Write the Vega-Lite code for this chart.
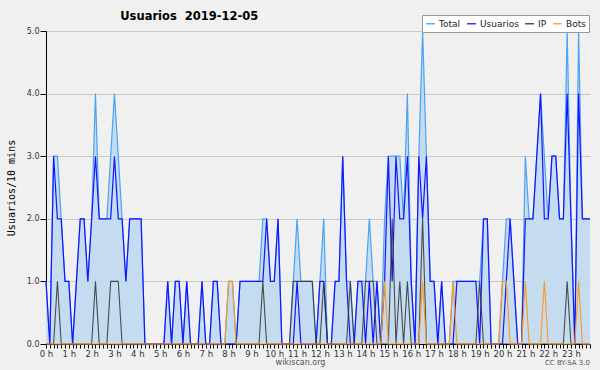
{
  "$schema": "https://vega.github.io/schema/vega-lite/v6.json",
  "width": 544,
  "height": 313,
  "autosize": {"type": "none"},
  "padding": {"left": 46, "top": 31, "right": 10, "bottom": 26},
  "background": "#f0f0f0",
  "config": {"view": {"stroke": null}, "font": "DejaVu Sans"},
  "title": {"text": "Usuarios\u00a0 2019-12-05", "anchor": "start", "dx": 114, "offset": -8, "fontSize": 11.5, "font": "DejaVu Sans", "fontWeight": "bold", "color": "#000"},
  "data": {"values": [
    {"m":0,"Total":1,"Usuarios":1,"IP":0,"Bots":0},
    {"m":10,"Total":0,"Usuarios":0,"IP":0,"Bots":0},
    {"m":20,"Total":3,"Usuarios":3,"IP":0,"Bots":0},
    {"m":30,"Total":3,"Usuarios":2,"IP":1,"Bots":0},
    {"m":40,"Total":2,"Usuarios":2,"IP":0,"Bots":0},
    {"m":50,"Total":1,"Usuarios":1,"IP":0,"Bots":0},
    {"m":60,"Total":1,"Usuarios":1,"IP":0,"Bots":0},
    {"m":70,"Total":0,"Usuarios":0,"IP":0,"Bots":0},
    {"m":80,"Total":1,"Usuarios":1,"IP":0,"Bots":0},
    {"m":90,"Total":2,"Usuarios":2,"IP":0,"Bots":0},
    {"m":100,"Total":2,"Usuarios":2,"IP":0,"Bots":0},
    {"m":110,"Total":1,"Usuarios":1,"IP":0,"Bots":0},
    {"m":120,"Total":2,"Usuarios":2,"IP":0,"Bots":0},
    {"m":130,"Total":4,"Usuarios":3,"IP":1,"Bots":0},
    {"m":140,"Total":2,"Usuarios":2,"IP":0,"Bots":0},
    {"m":150,"Total":2,"Usuarios":2,"IP":0,"Bots":0},
    {"m":160,"Total":2,"Usuarios":2,"IP":0,"Bots":0},
    {"m":170,"Total":3,"Usuarios":2,"IP":1,"Bots":0},
    {"m":180,"Total":4,"Usuarios":3,"IP":1,"Bots":0},
    {"m":190,"Total":3,"Usuarios":2,"IP":1,"Bots":0},
    {"m":200,"Total":2,"Usuarios":2,"IP":0,"Bots":0},
    {"m":210,"Total":1,"Usuarios":1,"IP":0,"Bots":0},
    {"m":220,"Total":2,"Usuarios":2,"IP":0,"Bots":0},
    {"m":230,"Total":2,"Usuarios":2,"IP":0,"Bots":0},
    {"m":240,"Total":2,"Usuarios":2,"IP":0,"Bots":0},
    {"m":250,"Total":2,"Usuarios":2,"IP":0,"Bots":0},
    {"m":260,"Total":0,"Usuarios":0,"IP":0,"Bots":0},
    {"m":270,"Total":0,"Usuarios":0,"IP":0,"Bots":0},
    {"m":280,"Total":0,"Usuarios":0,"IP":0,"Bots":0},
    {"m":290,"Total":0,"Usuarios":0,"IP":0,"Bots":0},
    {"m":300,"Total":0,"Usuarios":0,"IP":0,"Bots":0},
    {"m":310,"Total":0,"Usuarios":0,"IP":0,"Bots":0},
    {"m":320,"Total":1,"Usuarios":1,"IP":0,"Bots":0},
    {"m":330,"Total":0,"Usuarios":0,"IP":0,"Bots":0},
    {"m":340,"Total":1,"Usuarios":1,"IP":0,"Bots":0},
    {"m":350,"Total":1,"Usuarios":1,"IP":0,"Bots":0},
    {"m":360,"Total":0,"Usuarios":0,"IP":0,"Bots":0},
    {"m":370,"Total":1,"Usuarios":1,"IP":0,"Bots":0},
    {"m":380,"Total":0,"Usuarios":0,"IP":0,"Bots":0},
    {"m":390,"Total":0,"Usuarios":0,"IP":0,"Bots":0},
    {"m":400,"Total":0,"Usuarios":0,"IP":0,"Bots":0},
    {"m":410,"Total":1,"Usuarios":1,"IP":0,"Bots":0},
    {"m":420,"Total":0,"Usuarios":0,"IP":0,"Bots":0},
    {"m":430,"Total":0,"Usuarios":0,"IP":0,"Bots":0},
    {"m":440,"Total":1,"Usuarios":1,"IP":0,"Bots":0},
    {"m":450,"Total":1,"Usuarios":1,"IP":0,"Bots":0},
    {"m":460,"Total":0,"Usuarios":0,"IP":0,"Bots":0},
    {"m":470,"Total":0,"Usuarios":0,"IP":0,"Bots":0},
    {"m":480,"Total":1,"Usuarios":0,"IP":0,"Bots":1},
    {"m":490,"Total":1,"Usuarios":0,"IP":0,"Bots":1},
    {"m":500,"Total":0,"Usuarios":0,"IP":0,"Bots":0},
    {"m":510,"Total":1,"Usuarios":1,"IP":0,"Bots":0},
    {"m":520,"Total":1,"Usuarios":1,"IP":0,"Bots":0},
    {"m":530,"Total":1,"Usuarios":1,"IP":0,"Bots":0},
    {"m":540,"Total":1,"Usuarios":1,"IP":0,"Bots":0},
    {"m":550,"Total":1,"Usuarios":1,"IP":0,"Bots":0},
    {"m":560,"Total":1,"Usuarios":1,"IP":0,"Bots":0},
    {"m":570,"Total":2,"Usuarios":1,"IP":1,"Bots":0},
    {"m":580,"Total":2,"Usuarios":2,"IP":0,"Bots":0},
    {"m":590,"Total":1,"Usuarios":1,"IP":0,"Bots":0},
    {"m":600,"Total":1,"Usuarios":1,"IP":0,"Bots":0},
    {"m":610,"Total":2,"Usuarios":2,"IP":0,"Bots":0},
    {"m":620,"Total":0,"Usuarios":0,"IP":0,"Bots":0},
    {"m":630,"Total":0,"Usuarios":0,"IP":0,"Bots":0},
    {"m":640,"Total":0,"Usuarios":0,"IP":0,"Bots":0},
    {"m":650,"Total":1,"Usuarios":0,"IP":1,"Bots":0},
    {"m":660,"Total":2,"Usuarios":1,"IP":1,"Bots":0},
    {"m":670,"Total":1,"Usuarios":0,"IP":1,"Bots":0},
    {"m":680,"Total":1,"Usuarios":0,"IP":1,"Bots":0},
    {"m":690,"Total":1,"Usuarios":0,"IP":1,"Bots":0},
    {"m":700,"Total":1,"Usuarios":0,"IP":1,"Bots":0},
    {"m":710,"Total":0,"Usuarios":0,"IP":0,"Bots":0},
    {"m":720,"Total":1,"Usuarios":1,"IP":0,"Bots":0},
    {"m":730,"Total":2,"Usuarios":1,"IP":1,"Bots":0},
    {"m":740,"Total":0,"Usuarios":0,"IP":0,"Bots":0},
    {"m":750,"Total":0,"Usuarios":0,"IP":0,"Bots":0},
    {"m":760,"Total":1,"Usuarios":1,"IP":0,"Bots":0},
    {"m":770,"Total":1,"Usuarios":1,"IP":0,"Bots":0},
    {"m":780,"Total":3,"Usuarios":3,"IP":0,"Bots":0},
    {"m":790,"Total":1,"Usuarios":1,"IP":0,"Bots":0},
    {"m":800,"Total":1,"Usuarios":0,"IP":1,"Bots":0},
    {"m":810,"Total":0,"Usuarios":0,"IP":0,"Bots":0},
    {"m":820,"Total":1,"Usuarios":1,"IP":0,"Bots":0},
    {"m":830,"Total":1,"Usuarios":1,"IP":0,"Bots":0},
    {"m":840,"Total":1,"Usuarios":0,"IP":1,"Bots":0},
    {"m":850,"Total":2,"Usuarios":1,"IP":1,"Bots":0},
    {"m":860,"Total":1,"Usuarios":0,"IP":1,"Bots":0},
    {"m":870,"Total":1,"Usuarios":1,"IP":0,"Bots":0},
    {"m":880,"Total":0,"Usuarios":0,"IP":0,"Bots":0},
    {"m":890,"Total":2,"Usuarios":1,"IP":0,"Bots":1},
    {"m":900,"Total":3,"Usuarios":3,"IP":0,"Bots":0},
    {"m":910,"Total":3,"Usuarios":1,"IP":2,"Bots":0},
    {"m":920,"Total":3,"Usuarios":3,"IP":0,"Bots":0},
    {"m":930,"Total":3,"Usuarios":2,"IP":1,"Bots":0},
    {"m":940,"Total":2,"Usuarios":2,"IP":0,"Bots":0},
    {"m":950,"Total":4,"Usuarios":3,"IP":1,"Bots":0},
    {"m":960,"Total":1,"Usuarios":1,"IP":0,"Bots":0},
    {"m":970,"Total":0,"Usuarios":0,"IP":0,"Bots":0},
    {"m":980,"Total":3,"Usuarios":3,"IP":0,"Bots":0},
    {"m":990,"Total":5,"Usuarios":2,"IP":2,"Bots":1},
    {"m":1000,"Total":3,"Usuarios":3,"IP":0,"Bots":0},
    {"m":1010,"Total":1,"Usuarios":1,"IP":0,"Bots":0},
    {"m":1020,"Total":1,"Usuarios":1,"IP":0,"Bots":0},
    {"m":1030,"Total":0,"Usuarios":0,"IP":0,"Bots":0},
    {"m":1040,"Total":1,"Usuarios":1,"IP":0,"Bots":0},
    {"m":1050,"Total":0,"Usuarios":0,"IP":0,"Bots":0},
    {"m":1060,"Total":0,"Usuarios":0,"IP":0,"Bots":0},
    {"m":1070,"Total":1,"Usuarios":0,"IP":0,"Bots":1},
    {"m":1080,"Total":1,"Usuarios":1,"IP":0,"Bots":0},
    {"m":1090,"Total":1,"Usuarios":1,"IP":0,"Bots":0},
    {"m":1100,"Total":1,"Usuarios":1,"IP":0,"Bots":0},
    {"m":1110,"Total":1,"Usuarios":1,"IP":0,"Bots":0},
    {"m":1120,"Total":1,"Usuarios":1,"IP":0,"Bots":0},
    {"m":1130,"Total":1,"Usuarios":1,"IP":0,"Bots":0},
    {"m":1140,"Total":1,"Usuarios":0,"IP":1,"Bots":0},
    {"m":1150,"Total":2,"Usuarios":2,"IP":0,"Bots":0},
    {"m":1160,"Total":2,"Usuarios":2,"IP":0,"Bots":0},
    {"m":1170,"Total":0,"Usuarios":0,"IP":0,"Bots":0},
    {"m":1180,"Total":0,"Usuarios":0,"IP":0,"Bots":0},
    {"m":1190,"Total":0,"Usuarios":0,"IP":0,"Bots":0},
    {"m":1200,"Total":1,"Usuarios":0,"IP":0,"Bots":1},
    {"m":1210,"Total":2,"Usuarios":1,"IP":0,"Bots":1},
    {"m":1220,"Total":2,"Usuarios":2,"IP":0,"Bots":0},
    {"m":1230,"Total":1,"Usuarios":1,"IP":0,"Bots":0},
    {"m":1240,"Total":0,"Usuarios":0,"IP":0,"Bots":0},
    {"m":1250,"Total":0,"Usuarios":0,"IP":0,"Bots":0},
    {"m":1260,"Total":3,"Usuarios":2,"IP":0,"Bots":1},
    {"m":1270,"Total":2,"Usuarios":2,"IP":0,"Bots":0},
    {"m":1280,"Total":2,"Usuarios":2,"IP":0,"Bots":0},
    {"m":1290,"Total":3,"Usuarios":3,"IP":0,"Bots":0},
    {"m":1300,"Total":4,"Usuarios":4,"IP":0,"Bots":0},
    {"m":1310,"Total":3,"Usuarios":2,"IP":0,"Bots":1},
    {"m":1320,"Total":2,"Usuarios":2,"IP":0,"Bots":0},
    {"m":1330,"Total":3,"Usuarios":3,"IP":0,"Bots":0},
    {"m":1340,"Total":3,"Usuarios":3,"IP":0,"Bots":0},
    {"m":1350,"Total":2,"Usuarios":2,"IP":0,"Bots":0},
    {"m":1360,"Total":2,"Usuarios":2,"IP":0,"Bots":0},
    {"m":1370,"Total":5,"Usuarios":4,"IP":1,"Bots":0},
    {"m":1380,"Total":2,"Usuarios":2,"IP":0,"Bots":0},
    {"m":1390,"Total":0,"Usuarios":0,"IP":0,"Bots":0},
    {"m":1400,"Total":5,"Usuarios":4,"IP":0,"Bots":1},
    {"m":1410,"Total":2,"Usuarios":2,"IP":0,"Bots":0},
    {"m":1420,"Total":2,"Usuarios":2,"IP":0,"Bots":0},
    {"m":1430,"Total":2,"Usuarios":2,"IP":0,"Bots":0}
  ]},
  "encoding": {
    "x": {
      "field": "m", "type": "quantitative",
      "scale": {"domain": [0, 1430], "nice": false, "zero": false},
      "axis": {
        "title": "wikiscan.org", "titleFontSize": 8, "titleFontWeight": "normal", "titleColor": "#555", "titlePadding": 1, "titleX": 254,
        "tickCount": 144, "labelOverlap": false, "labelFlush": false,
        "labelExpr": "datum.value % 60 == 0 ? (datum.value / 60) + ' h' : ''",
        "labelFontSize": 8.5, "labelColor": "#333", "labelPadding": 1,
        "tickSize": 4, "tickColor": "#000", "domainColor": "#000", "grid": false
      }
    }
  },
  "layer": [
    {
      "mark": {"type": "area", "color": "#c4dbf0", "opacity": 1},
      "encoding": {
        "y": {
          "field": "Total", "type": "quantitative",
          "scale": {"domain": [0, 5], "nice": false},
          "axis": {
            "title": "Usuarios/10 mins", "titleFont": "DejaVu Sans Mono", "titleFontSize": 10, "titleFontWeight": "normal", "titleColor": "#000", "titlePadding": 10,
            "values": [0,0.25,0.5,0.75,1,1.25,1.5,1.75,2,2.25,2.5,2.75,3,3.25,3.5,3.75,4,4.25,4.5,4.75,5],
            "labelExpr": "datum.value % 1 == 0 ? format(datum.value, '.1f') : ''",
            "labelOverlap": false, "labelFontSize": 8, "labelColor": "#333", "labelPadding": 1,
            "tickSize": {"condition": {"test": "datum.value % 1 == 0", "value": 6}, "value": 4},
            "tickColor": "#000", "domainColor": "#000",
            "grid": true, "gridColor": "#c8c8c8",
            "gridOpacity": {"condition": {"test": "datum.value % 1 == 0 && datum.value > 0", "value": 1}, "value": 0}
          }
        }
      }
    },
    {
      "mark": {"type": "line", "strokeWidth": 1.2},
      "encoding": {
        "y": {"field": "Total", "type": "quantitative"},
        "color": {
          "datum": "Total",
          "scale": {"domain": ["Total", "Usuarios", "IP", "Bots"], "range": ["#4aa3f2", "#1515ff", "#333333", "#ff9a1a"]},
          "legend": {
            "title": null, "orient": "none", "legendX": 376, "legendY": -16, "direction": "horizontal",
            "symbolType": "stroke", "symbolSize": 80, "symbolStrokeWidth": 1.5,
            "labelFontSize": 9, "labelColor": "#222", "labelOffset": 3, "columnPadding": 3,
            "fillColor": "#ffffff", "strokeColor": "#9a9a9a", "padding": 3
          }
        }
      }
    },
    {
      "mark": {"type": "line", "strokeWidth": 1.2},
      "encoding": {"y": {"field": "Usuarios", "type": "quantitative"}, "color": {"datum": "Usuarios"}}
    },
    {
      "mark": {"type": "line", "strokeWidth": 1.1, "opacity": 0.85},
      "encoding": {"y": {"field": "IP", "type": "quantitative"}, "color": {"datum": "IP"}}
    },
    {
      "mark": {"type": "line", "strokeWidth": 1.1},
      "encoding": {"y": {"field": "Bots", "type": "quantitative"}, "color": {"datum": "Bots"}}
    },
    {
      "data": {"values": [{"label": "CC BY-SA 3.0", "m": 1430, "v": -0.3}]},
      "mark": {"type": "text", "align": "right", "baseline": "middle", "fontSize": 7, "color": "#555"},
      "encoding": {
        "x": {"field": "m", "type": "quantitative"},
        "y": {"field": "v", "type": "quantitative"},
        "text": {"field": "label"}
      }
    }
  ]
}
